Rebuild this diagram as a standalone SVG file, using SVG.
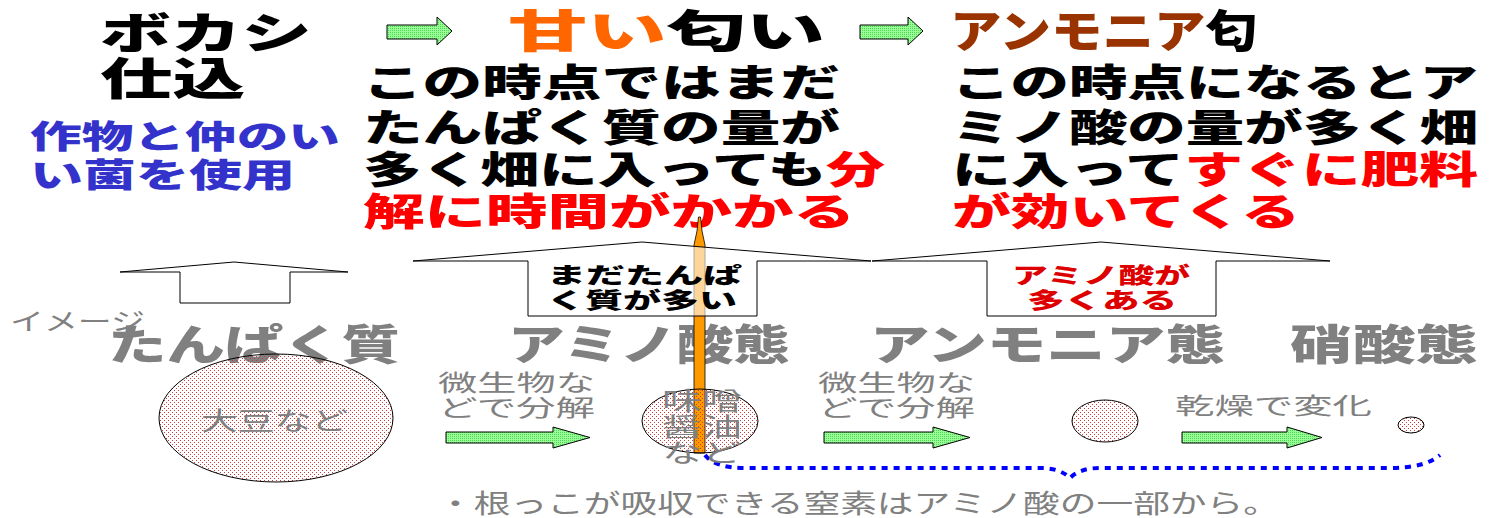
<svg xmlns="http://www.w3.org/2000/svg" width="1494" height="518" viewBox="0 0 1494 518">
<style>
.b{font-family:"Noto Sans CJK JP","Noto Sans CJK SC",sans-serif;font-weight:900}
.n{font-family:"Noto Sans CJK JP","Noto Sans CJK SC",sans-serif;font-weight:400}
.gh{fill:#808080}
.gl{fill:#808080}
.blk{fill:#000}
.red{fill:#ff0000}
.org{fill:#ff6600}
.brn{fill:#993300}
.blu{fill:#3333cc}
.ua{fill:#fff;stroke:#000;stroke-width:1}
.ga{fill:url(#grn);stroke:#000;stroke-width:1}
.el{fill:url(#dots);stroke:#000;stroke-width:1}
</style>
<defs>
<pattern id="dots" width="4" height="4" patternUnits="userSpaceOnUse">
<rect x="0" y="0" width="1" height="1" fill="#c83c3c"/>
<rect x="2" y="2" width="1" height="1" fill="#c83c3c"/>
</pattern>
<pattern id="grn" width="2" height="2" patternUnits="userSpaceOnUse">
<rect width="2" height="2" fill="#99ff99"/>
<rect width="1" height="1" fill="#4fd44f"/>
</pattern>
</defs>
<rect width="1494" height="518" fill="#fff"/>

<g id="title-bokashi">
<text class="b blk" x="100" y="49" font-size="43" textLength="212" lengthAdjust="spacingAndGlyphs">ボカシ</text>
<text class="b blk" x="100" y="95" font-size="44" textLength="145" lengthAdjust="spacingAndGlyphs">仕込</text>
<text class="b blu" x="30" y="148" font-size="32" textLength="310" lengthAdjust="spacingAndGlyphs">作物と仲のい</text>
<text class="b blu" x="30" y="187" font-size="33" textLength="265" lengthAdjust="spacingAndGlyphs">い菌を使用</text>
</g>

<g id="title-amai">
<text class="b" x="508" y="48" font-size="45" textLength="317" lengthAdjust="spacingAndGlyphs"><tspan class="org">甘い</tspan><tspan class="blk">匂い</tspan></text>
<text class="b blk" x="363" y="96" font-size="38" textLength="477" lengthAdjust="spacingAndGlyphs">この時点ではまだ</text>
<text class="b blk" x="363" y="141" font-size="38" textLength="477" lengthAdjust="spacingAndGlyphs">たんぱく質の量が</text>
<text class="b" x="363" y="183" font-size="38" textLength="522" lengthAdjust="spacingAndGlyphs"><tspan class="blk">多く畑に入っても</tspan><tspan class="red">分</tspan></text>
<text class="b red" x="363" y="225" font-size="38" textLength="492" lengthAdjust="spacingAndGlyphs">解に時間がかかる</text>
</g>

<g id="title-ammonia">
<text class="b" x="950" y="48" font-size="45" textLength="307" lengthAdjust="spacingAndGlyphs"><tspan class="brn">アンモニア</tspan><tspan class="blk">匂</tspan></text>
<text class="b blk" x="952" y="96" font-size="38" textLength="526" lengthAdjust="spacingAndGlyphs">この時点になるとア</text>
<text class="b blk" x="952" y="141" font-size="38" textLength="526" lengthAdjust="spacingAndGlyphs">ミノ酸の量が多く畑</text>
<text class="b" x="952" y="183" font-size="38" textLength="526" lengthAdjust="spacingAndGlyphs"><tspan class="blk">に入って</tspan><tspan class="red">すぐに肥料</tspan></text>
<text class="b red" x="952" y="225" font-size="38" textLength="348" lengthAdjust="spacingAndGlyphs">が効いてくる</text>
</g>

<g id="headings">
<text class="n gl" x="10" y="330" font-size="24" textLength="135" lengthAdjust="spacingAndGlyphs">イメージ</text>
<text class="b gh" x="108" y="360" font-size="42" textLength="292" lengthAdjust="spacingAndGlyphs">たんぱく質</text>
<text class="b gh" x="508" y="360" font-size="42" textLength="282" lengthAdjust="spacingAndGlyphs">アミノ酸態</text>
<text class="b gh" x="870" y="360" font-size="42" textLength="355" lengthAdjust="spacingAndGlyphs">アンモニア態</text>
<text class="b gh" x="1290" y="360" font-size="42" textLength="188" lengthAdjust="spacingAndGlyphs">硝酸態</text>
</g>

<g id="stick">
<polygon points="698.5,217 700.5,217 702,231 705,245 705,453 694,453 694,245 697,231" fill="#ff9900" stroke="#000" stroke-width="0.8"/>
</g>

<g id="up-arrow-1">
<polygon class="ua" points="234,262 348,272 290,272 290,303 180,303 180,272 120,272"/>
</g>
<g id="up-arrow-2">
<polygon class="ua" style="fill-opacity:0.6" points="642,242 871,261 757,261 757,316 528,316 528,261 413,261"/>
<text class="b blk" x="547" y="283" font-size="22" textLength="195" lengthAdjust="spacingAndGlyphs">まだたんぱ</text>
<text class="b blk" x="547" y="308" font-size="22" textLength="190" lengthAdjust="spacingAndGlyphs">く質が多い</text>
</g>
<g id="up-arrow-3">
<polygon class="ua" points="1101,242 1330,261 1216,261 1216,316 987,316 987,261 872,261"/>
<text class="b" fill="#dd0000" x="1012" y="283" font-size="22" textLength="178" lengthAdjust="spacingAndGlyphs">アミノ酸が</text>
<text class="b" fill="#dd0000" x="1027" y="308" font-size="22" textLength="150" lengthAdjust="spacingAndGlyphs">多くある</text>
</g>

<g id="connectors">
<path class="ga" d="M387,25 H437 V17 L452,31 L437,45 V39 H387 Z"/>
<path class="ga" d="M860,25 H908 V17 L923,31 L908,45 V39 H860 Z"/>
<path class="ga" d="M446,432 H553 V427 L590,437.5 L553,448 V443 H446 Z"/>
<path class="ga" d="M824,432 H933 V427 L970,437.5 L933,448 V443 H824 Z"/>
<path class="ga" d="M1182,432 H1287 V427 L1322,437.5 L1287,448 V443 H1182 Z"/>
<path d="M705,455 Q715,468 745,468 L1040,468 Q1060,468 1070,478 Q1080,468 1100,468 L1390,468 Q1425,468 1440,455" fill="none" stroke="#0000ff" stroke-width="4" stroke-dasharray="6 6"/>
</g>

<g id="protein">
<ellipse class="el" cx="276" cy="418" rx="117" ry="64"/>
<text class="n gl" x="201" y="430" font-size="25" textLength="147" lengthAdjust="spacingAndGlyphs">大豆など</text>
</g>
<g id="amino">
<ellipse class="el" cx="700" cy="421" rx="58" ry="32"/>
<text class="n gl" x="662" y="410" font-size="25" textLength="80" lengthAdjust="spacingAndGlyphs">味噌</text>
<text class="n gl" x="662" y="436" font-size="25" textLength="80" lengthAdjust="spacingAndGlyphs">醤油</text>
<text class="n gl" x="662" y="462" font-size="25" textLength="80" lengthAdjust="spacingAndGlyphs">など</text>
</g>
<g id="ammonium">
<ellipse class="el" cx="1105" cy="421" rx="33" ry="21"/>
</g>
<g id="nitrate">
<ellipse class="el" cx="1411" cy="425" rx="13" ry="8"/>
</g>

<g id="labels">
<text class="n gl" x="438" y="391" font-size="23" textLength="157" lengthAdjust="spacingAndGlyphs">微生物な</text>
<text class="n gl" x="438" y="416" font-size="23" textLength="157" lengthAdjust="spacingAndGlyphs">どで分解</text>
<text class="n gl" x="818" y="391" font-size="23" textLength="157" lengthAdjust="spacingAndGlyphs">微生物な</text>
<text class="n gl" x="818" y="416" font-size="23" textLength="157" lengthAdjust="spacingAndGlyphs">どで分解</text>
<text class="n gl" x="1175" y="414" font-size="23" textLength="197" lengthAdjust="spacingAndGlyphs">乾燥で変化</text>
<text class="n gl" x="437" y="513" font-size="26" textLength="843" lengthAdjust="spacingAndGlyphs">・根っこが吸収できる窒素はアミノ酸の一部から。</text>
</g>
</svg>
